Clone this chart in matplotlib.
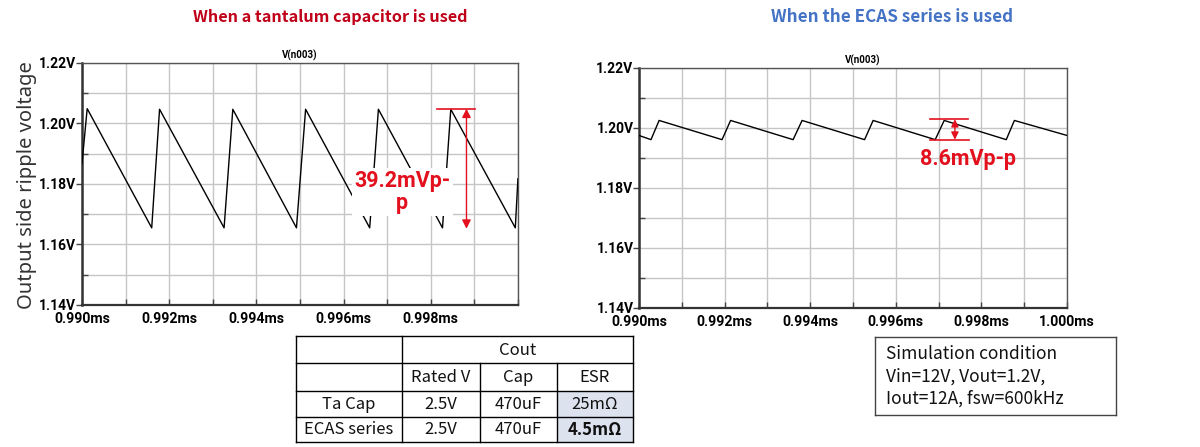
import matplotlib
matplotlib.use('Agg')
import matplotlib.pyplot as plt
from matplotlib.ticker import MultipleLocator, FuncFormatter
from matplotlib.patches import Rectangle

# ---- data ----
ta_t = [0.99000, 0.99012, 0.99160, 0.99178, 0.99326, 0.99346, 0.99492, 0.99513,
        0.99660, 0.99680, 0.99827, 0.99846, 0.99994, 1.00000]
ta_v = [1.1867, 1.2049, 1.1655, 1.2047, 1.1655, 1.2047, 1.1655, 1.2047,
        1.1655, 1.2047, 1.1655, 1.2047, 1.1655, 1.1817]

ecas_t = [0.99000, 0.99028, 0.99047, 0.99194, 0.99214, 0.99360, 0.99381, 0.99527,
          0.99547, 0.99692, 0.99713, 0.99858, 0.99877, 1.00000]
ecas_v = [1.1975, 1.1961, 1.2025, 1.1961, 1.2025, 1.1961, 1.2025, 1.1961,
          1.2025, 1.1961, 1.2025, 1.1961, 1.2025, 1.1975]

ta_ripple = '39.2mVp-\np'
ecas_ripple = '8.6mVp-p'

tbl_top = ['', 'Cout']
tbl_head = ['', 'Rated V', 'Cap', 'ESR']
tbl_rows = [['Ta Cap', '2.5V', '470uF', '25mΩ'],
            ['ECAS series', '2.5V', '470uF', '4.5mΩ']]

sim_lines = ['Simulation condition', 'Vin=12V, Vout=1.2V,', 'Iout=12A, fsw=600kHz']

RED = '#e3101e'
TICK_FONT = ['Roboto', 'Liberation Sans', 'DejaVu Sans']
JP_FONT = ['Noto Sans CJK JP', 'DejaVu Sans']

fig = plt.figure(figsize=(12, 4.47), dpi=100)


def spice_axes(rect, t, v, xlabels_upto):
    ax = fig.add_axes(rect)
    ax.plot(t, v, color='black', lw=1.0, zorder=3)
    ax.set_xlim(0.990, 1.000)
    ax.set_ylim(1.14, 1.22)
    ax.xaxis.set_major_locator(MultipleLocator(0.002))
    ax.xaxis.set_minor_locator(MultipleLocator(0.001))
    ax.yaxis.set_major_locator(MultipleLocator(0.02))
    ax.yaxis.set_minor_locator(MultipleLocator(0.01))
    ax.xaxis.set_major_formatter(FuncFormatter(
        lambda x, p: f'{x:.3f}ms' if x < xlabels_upto + 1e-6 else ''))
    ax.yaxis.set_major_formatter(FuncFormatter(lambda y, p: f'{y:.2f}V'))
    ax.grid(which='both', color='#c6c6c6', lw=1.0, zorder=0)
    ax.tick_params(axis='x', which='both', direction='in', length=4, width=1,
                   color='#444444', pad=5)
    ax.tick_params(axis='y', which='major', direction='out', length=4, width=1,
                   color='#444444', pad=0)
    ax.tick_params(axis='y', which='minor', direction='in', length=4, width=1,
                   color='#444444')
    for lab in ax.get_xticklabels():
        lab.set_fontfamily(TICK_FONT)
        lab.set_fontweight('bold')
        lab.set_fontsize(10.2)
    for lab in ax.get_yticklabels():
        lab.set_fontfamily(TICK_FONT)
        lab.set_fontweight('bold')
        lab.set_fontsize(10)
    for s in ax.spines.values():
        s.set_color('#555555')
        s.set_linewidth(1.0)
    ax.spines['left'].set_color('#333333')
    ax.spines['left'].set_linewidth(1.8)
    ax.spines['bottom'].set_color('#333333')
    ax.spines['bottom'].set_linewidth(1.6)
    return ax


# ---- left: tantalum ----
ax1 = spice_axes([0.0683, 0.3177, 0.3633, 0.5414], ta_t, ta_v, 0.998)
ax1.text(0.5, 1.01, 'V(n003)', transform=ax1.transAxes, ha='center', va='bottom',
         fontsize=7, fontweight='bold', family=TICK_FONT)
ta_pk, ta_tr = max(ta_v[1:-1]), min(ta_v)
ax1.plot([0.99814, 0.99901], [ta_pk, ta_pk], color=RED, lw=1.2, zorder=4)
ax1.annotate('', xy=(0.99882, ta_tr - 0.0003), xytext=(0.99882, ta_pk),
             arrowprops=dict(arrowstyle='<|-|>', color=RED, lw=1.0,
                             mutation_scale=13, shrinkA=0, shrinkB=0), zorder=4)
ax1.text(0.99735, 1.1773, ta_ripple, ha='center', va='center', color=RED,
         fontsize=15.5, fontweight='bold', family=TICK_FONT, linespacing=1.0,
         zorder=5, bbox=dict(facecolor='white', edgecolor='none', pad=1.5))

# ---- right: ECAS ----
ax2 = spice_axes([0.5325, 0.311, 0.3567, 0.537], ecas_t, ecas_v, 1.000)
ax2.text(0.523, 1.01, 'V(n003)', transform=ax2.transAxes, ha='center', va='bottom',
         fontsize=7, fontweight='bold', family=TICK_FONT)
ec_pk, ec_tr = max(ecas_v), min(ecas_v)
ax2.plot([0.99680, 0.99768], [ec_pk + 0.0004, ec_pk + 0.0004], color=RED, lw=1.2, zorder=4)
ax2.plot([0.99680, 0.99772], [ec_tr, ec_tr], color=RED, lw=1.2, zorder=4)
ax2.annotate('', xy=(0.99738, ec_tr), xytext=(0.99738, ec_pk + 0.0004),
             arrowprops=dict(arrowstyle='<|-|>', color=RED, lw=1.0,
                             mutation_scale=11, shrinkA=0, shrinkB=0), zorder=4)
ax2.text(0.99769, 1.1898, ecas_ripple, ha='center', va='center', color=RED,
         fontsize=15.5, fontweight='bold', family=TICK_FONT, zorder=5)

# ---- titles and y label ----
fig.text(0.2754, 0.962, 'When a tantalum capacitor is used', ha='center', va='center',
         color='#c00018', fontsize=11.7, fontweight='bold', family=JP_FONT)
fig.text(0.7438, 0.962, 'When the ECAS series is used', ha='center', va='center',
         color='#4472c4', fontsize=12.3, fontweight='bold', family=JP_FONT)
fig.text(0.0225, 0.585, 'Output side ripple voltage', rotation=90, ha='center', va='center',
         color='#333333', fontsize=14.5, family=['Noto Sans', 'DejaVu Sans'])

# ---- capacitor table ----
tax = fig.add_axes([0.2467, 0.0119, 0.2811, 0.2364])
col_edges = [0, 105.7, 184, 260.7, 337.3]
row_edges = [0, 27.3, 54.7, 81.3, 105.7]
tax.set_xlim(0, col_edges[-1])
tax.set_ylim(row_edges[-1], 0)
tax.axis('off')
for r in (2, 3):
    tax.add_patch(Rectangle((col_edges[3], row_edges[r]), col_edges[4] - col_edges[3],
                            row_edges[r + 1] - row_edges[r], facecolor='#dde2ef',
                            edgecolor='none', zorder=0))
for y in row_edges:
    tax.plot([col_edges[0], col_edges[-1]], [y, y], color='black', lw=1.0, clip_on=False)
for i, x in enumerate(col_edges):
    y0 = row_edges[1] if i in (2, 3) else row_edges[0]
    tax.plot([x, x], [y0, row_edges[-1]], color='black', lw=1.0, clip_on=False)


def cell(txt, c0, c1, r, bold=False):
    tax.text((col_edges[c0] + col_edges[c1]) / 2, (row_edges[r] + row_edges[r + 1]) / 2 + 0.5,
             txt, ha='center', va='center', fontsize=12, family=JP_FONT,
             fontweight='bold' if bold else 'normal', color='#111111')


cell(tbl_top[1], 1, 4, 0)
for j, h in enumerate(tbl_head):
    cell(h, j, j + 1, 1)
for i, row in enumerate(tbl_rows):
    for j, v in enumerate(row):
        cell(v, j, j + 1, i + 2, bold=(i == 1 and j == 3))

# ---- simulation condition box ----
sax = fig.add_axes([0.729, 0.0716, 0.2014, 0.1738])
sax.set_xticks([])
sax.set_yticks([])
for s in sax.spines.values():
    s.set_color('#444444')
    s.set_linewidth(1.0)
for k, line in enumerate(sim_lines):
    sax.text(0.048, 0.79 - k * 0.29, line, transform=sax.transAxes, ha='left', va='center',
             fontsize=12.5, family=JP_FONT, color='#111111')

plt.savefig('out.png', dpi=100)
